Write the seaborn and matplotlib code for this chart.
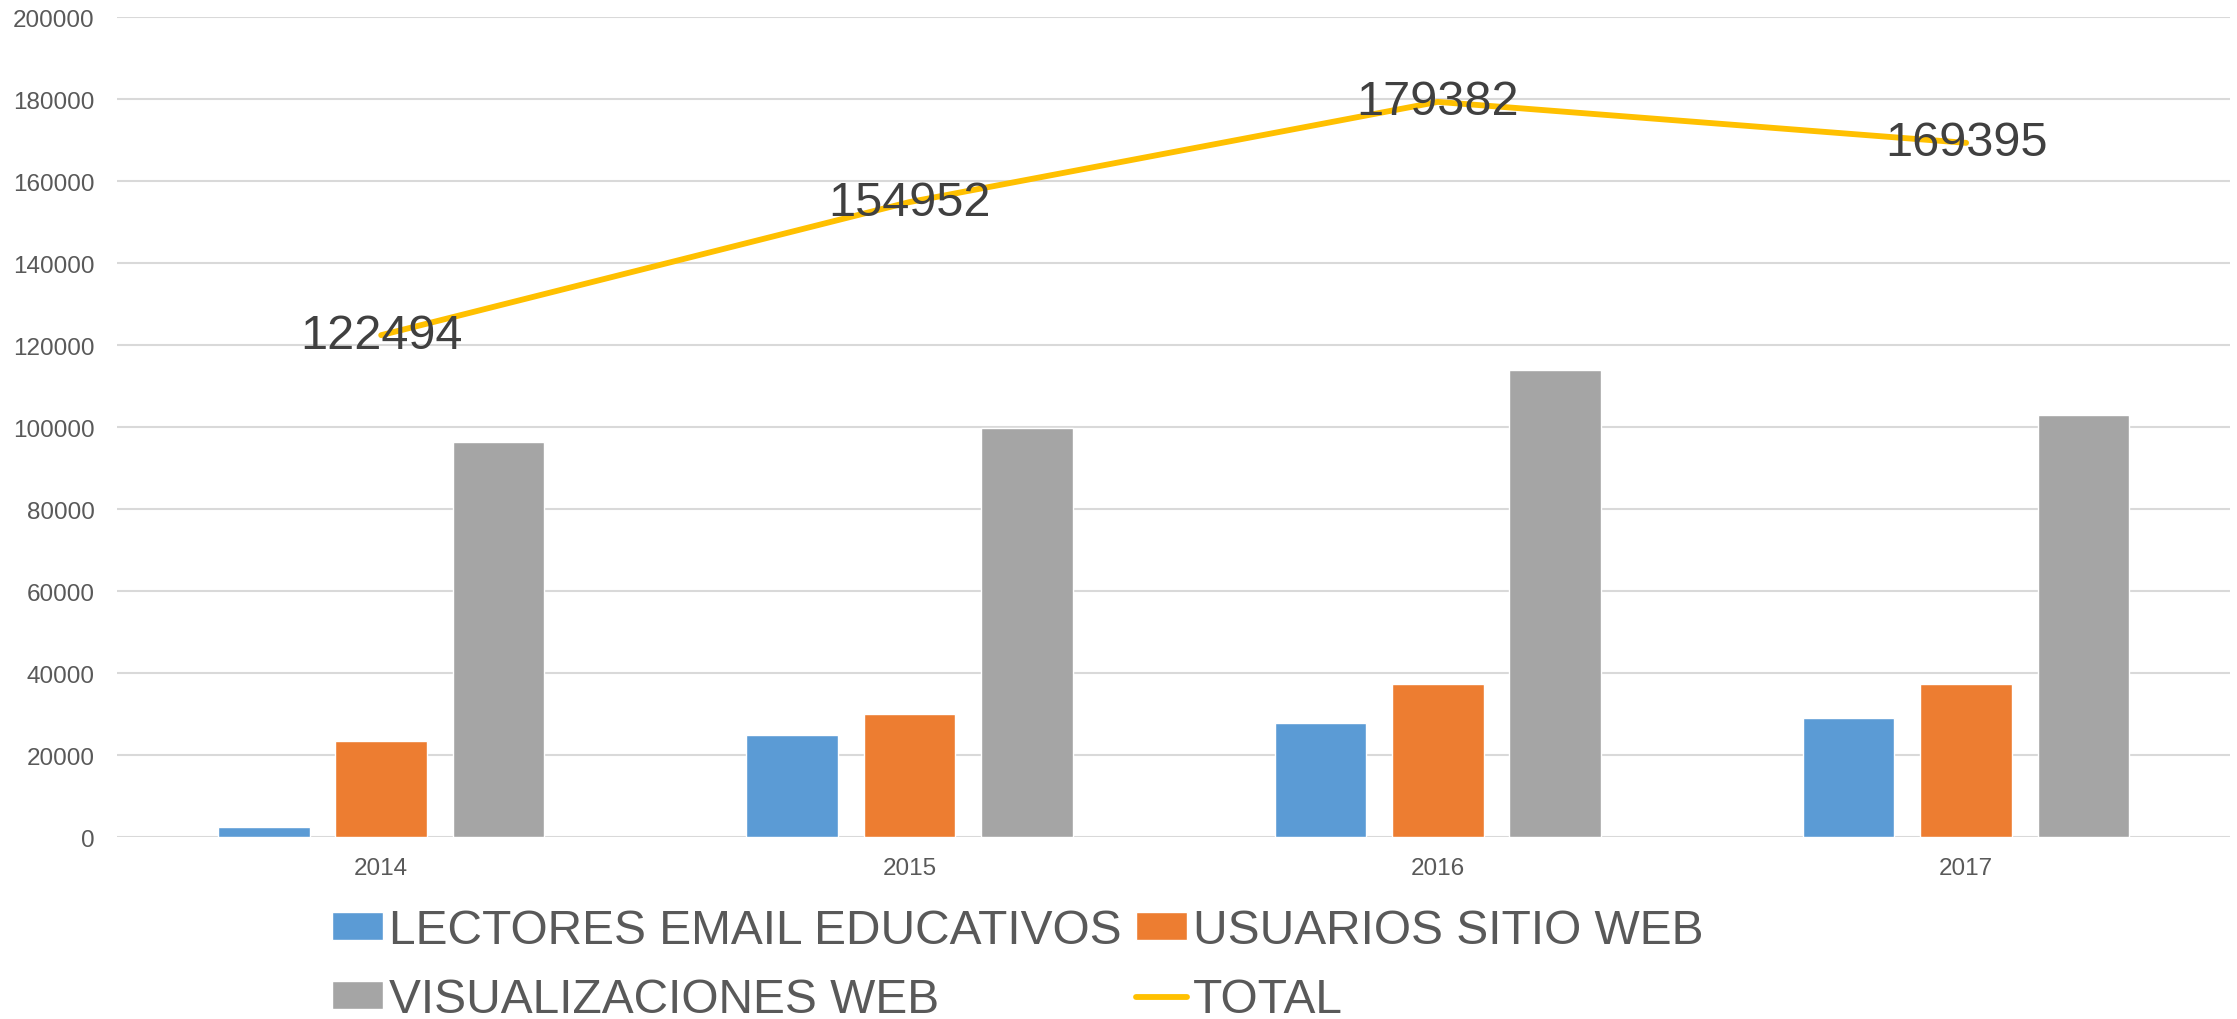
import numpy as np
import pandas as pd
import matplotlib.pyplot as plt
import seaborn as sns

# data
years = ["2014", "2015", "2016", "2017"]
lectores = [2650, 25100, 28000, 29100]
usuarios = [23450, 30000, 37400, 37350]
visualizaciones = [96394, 99852, 113982, 102945]
total = [122494, 154952, 179382, 169395]

series_names = ["LECTORES EMAIL EDUCATIVOS", "USUARIOS SITIO WEB", "VISUALIZACIONES WEB"]
colors = ["#5B9BD5", "#ED7D31", "#A5A5A5"]
line_color = "#FFC000"

sns.set_theme(style="white")
plt.rcParams["font.family"] = ["Liberation Sans", "DejaVu Sans"]

df = pd.DataFrame({
    "year": years * 3,
    "value": lectores + usuarios + visualizaciones,
    "serie": [series_names[0]] * 4 + [series_names[1]] * 4 + [series_names[2]] * 4,
})

fig = plt.figure(figsize=(22.37, 10.2), dpi=100)
ax = fig.add_axes([0.0523, 0.178, 0.9447, 0.804])

sns.barplot(data=df, x="year", y="value", hue="serie", palette=colors,
            width=0.667, gap=0.22, saturation=1, ax=ax)
sns.pointplot(x=years, y=total, color=line_color, markers="", linewidth=4.2,
              errorbar=None, label="TOTAL", ax=ax)

# data labels centred on the line points
for i, v in enumerate(total):
    ax.text(i, v, str(v), ha="center", va="center", fontsize=35, color="#404040")

ax.set_ylim(0, 200000)
ax.set_xlim(-0.5, 3.5)
ax.set_yticks(np.arange(0, 200001, 20000))
ax.yaxis.grid(True, color="#D9D9D9", linewidth=1.5)
ax.set_axisbelow(True)
for s in ax.spines.values():
    s.set_visible(False)
ax.tick_params(axis="y", length=0, pad=16, labelsize=17.5, labelcolor="#595959")
ax.tick_params(axis="x", length=0, pad=14, labelsize=17.5, labelcolor="#595959")
ax.set_xlabel("")
ax.set_ylabel("")

handles, labels = ax.get_legend_handles_labels()
ax.get_legend().remove()
lookup = dict(zip(labels, handles))
order = [series_names[0], series_names[2], series_names[1], "TOTAL"]
fig.legend([lookup[k] for k in order], order, loc="center",
           bbox_to_anchor=(0.455, 0.053), ncol=2, frameon=False,
           fontsize=34.5, labelcolor="#595959", handlelength=1.07, handleheight=0.5,
           handletextpad=0.12, columnspacing=0.3, labelspacing=0.5,
           borderaxespad=0, borderpad=0)

fig.savefig("out.png", dpi=100)
